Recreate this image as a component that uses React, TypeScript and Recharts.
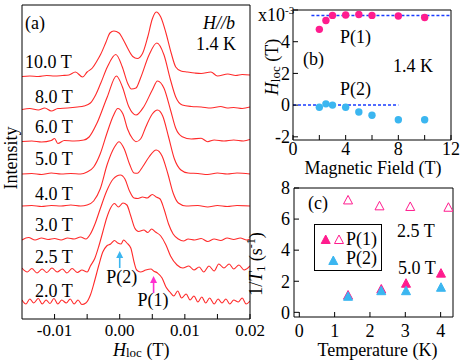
import React from 'react';
import { LineChart, Line, XAxis, YAxis, ScatterChart, Scatter, ReferenceLine } from 'recharts';

const SERIF = '"Liberation Serif", "Times New Roman", serif';
const RED = '#ff2a2a';
const PINK = '#ff1c8e';
const SKY = '#3bb6f0';
const GUIDE = '#1a3cff';

// (a) NMR spectra, [H_loc (T), intensity (arb. units, stacked)]
const spec10 = [
  [-0.015, 242.5], [-0.0138, 243], [-0.0125, 242.5], [-0.0112, 243.5], [-0.01, 243], [-0.0088, 243.5],
  [-0.0078, 244], [-0.0068, 247], [-0.0057, 242], [-0.005, 247], [-0.0042, 251], [-0.0035, 258],
  [-0.0029, 265], [-0.0021, 277], [-0.0015, 286], [-0.0009, 288], [-0.0001, 286], [0.0004, 281],
  [0.0012, 271], [0.002, 262.5], [0.0027, 260.5], [0.0035, 265.5], [0.0043, 282], [0.005, 300],
  [0.0056, 307], [0.0063, 302], [0.0071, 286], [0.0079, 266], [0.0086, 252], [0.0094, 248],
  [0.0104, 247], [0.0115, 246], [0.0125, 245.5], [0.014, 247], [0.015, 243], [0.0166, 245],
  [0.0178, 243.5], [0.0188, 244.5], [0.02, 244],
];
const spec8 = [
  [-0.015, 209.5], [-0.0138, 210.5], [-0.0125, 209], [-0.0115, 211], [-0.0105, 208], [-0.0095, 210.5],
  [-0.008, 211], [-0.0065, 212], [-0.0055, 213], [-0.0045, 216], [-0.0037, 224], [-0.0029, 236],
  [-0.0019, 252], [-0.0006, 264.5], [0.0004, 252], [0.0012, 236], [0.0018, 230], [0.0025, 231],
  [0.0032, 241], [0.0045, 264], [0.0057, 276], [0.0068, 264], [0.0078, 239], [0.0086, 222],
  [0.0096, 214], [0.011, 212.5], [0.0125, 212], [0.014, 211], [0.0155, 212.5], [0.0165, 211],
  [0.0175, 211.5], [0.0188, 210.5], [0.02, 212],
];
const spec6 = [
  [-0.015, 177.5], [-0.0135, 178], [-0.012, 177], [-0.0105, 178.5], [-0.01, 180.5], [-0.0095, 175.5],
  [-0.0085, 178.5], [-0.007, 178], [-0.0055, 179], [-0.0047, 182], [-0.0035, 195.7], [-0.0019, 222.3],
  [-0.0005, 243], [0.0004, 232.3], [0.0014, 212.3], [0.0025, 204], [0.0037, 212.3], [0.005, 229],
  [0.0058, 238], [0.0068, 230.7], [0.0078, 209], [0.0086, 190.7], [0.0096, 182.3], [0.011, 180],
  [0.0125, 180.7], [0.0135, 177.3], [0.0145, 179], [0.016, 178], [0.0175, 179], [0.019, 178], [0.02, 179.5],
];
const spec5 = [
  [-0.015, 145], [-0.0135, 145.5], [-0.012, 144.5], [-0.0105, 146], [-0.009, 145], [-0.0075, 145.5],
  [-0.006, 145], [-0.005, 147], [-0.004, 152], [-0.003, 165], [-0.002, 185], [-0.001, 203],
  [-0.0003, 210.5], [0.0005, 205], [0.0012, 190], [0.002, 180], [0.0025, 177.3], [0.0032, 180],
  [0.004, 192], [0.005, 205], [0.0058, 209], [0.0066, 203], [0.0075, 182], [0.0084, 160],
  [0.0094, 149], [0.0105, 146], [0.012, 145.5], [0.0135, 144.5], [0.015, 146], [0.0165, 145],
  [0.018, 146], [0.02, 145],
];
const spec4 = [
  [-0.015, 113], [-0.0135, 113.5], [-0.012, 112.5], [-0.0105, 113.5], [-0.009, 113], [-0.0075, 114],
  [-0.006, 113], [-0.005, 114], [-0.004, 118], [-0.003, 130], [-0.0019, 155], [-0.0008, 172],
  [-0.0001, 177.3], [0.0007, 170], [0.0015, 155], [0.0022, 146], [0.0027, 145.7], [0.0035, 152],
  [0.0045, 162], [0.0056, 169], [0.0065, 163], [0.0074, 145], [0.0082, 126], [0.009, 116],
  [0.0102, 113], [0.012, 113.5], [0.0135, 112], [0.015, 113.5], [0.0165, 112.5], [0.018, 113.5], [0.02, 113],
];
const spec3 = [
  [-0.015, 79], [-0.014, 81.5], [-0.013, 79], [-0.012, 81], [-0.011, 79.5], [-0.01, 80.5],
  [-0.009, 79], [-0.008, 81], [-0.007, 80], [-0.006, 82], [-0.0052, 80], [-0.0045, 85],
  [-0.0038, 95], [-0.003, 110], [-0.002, 128], [-0.001, 140], [0.0001, 144], [0.0008, 140],
  [0.0015, 128], [0.0022, 121], [0.0028, 120.5], [0.0035, 122], [0.0042, 121], [0.005, 124.5],
  [0.0056, 122], [0.0062, 120], [0.0068, 110], [0.0075, 95], [0.0082, 85], [0.009, 80],
  [0.0098, 78], [0.0105, 80], [0.0115, 79], [0.0125, 80.5], [0.0135, 77.5], [0.0145, 80],
  [0.0155, 78.5], [0.0165, 81], [0.0175, 79.5], [0.0185, 81], [0.0195, 79], [0.02, 80],
];
const spec25 = [
  [-0.015, 51], [-0.0142, 47], [-0.0135, 50.5], [-0.0127, 46], [-0.0119, 50], [-0.0112, 46.5],
  [-0.0104, 51], [-0.0096, 47], [-0.0088, 50], [-0.0081, 46], [-0.0073, 50.5], [-0.0065, 46.5],
  [-0.0058, 49], [-0.005, 47], [-0.0045, 53], [-0.0038, 61], [-0.0032, 73], [-0.0026, 87],
  [-0.002, 101], [-0.0014, 111], [-0.0008, 115.5], [-0.0002, 112], [0.0005, 116], [0.0011, 114],
  [0.0017, 103], [0.0023, 91], [0.0029, 87.5], [0.0037, 89], [0.0043, 86.5], [0.0049, 90],
  [0.0055, 87], [0.0063, 83], [0.0071, 74], [0.0078, 63], [0.0088, 54], [0.0097, 51],
  [0.0106, 53], [0.0114, 49], [0.0122, 52], [0.0129, 47], [0.0137, 53], [0.0145, 48],
  [0.0152, 55], [0.016, 51], [0.0168, 55], [0.0175, 50], [0.0183, 54], [0.0191, 49], [0.02, 53],
];
const spec20 = [
  [-0.015, 19], [-0.0144, 15], [-0.0138, 20], [-0.0132, 16], [-0.0125, 20.5], [-0.0119, 15],
  [-0.0113, 19], [-0.0107, 15.5], [-0.0101, 20.5], [-0.0095, 15], [-0.0089, 19], [-0.0082, 16],
  [-0.0076, 20], [-0.007, 15], [-0.0064, 19], [-0.0058, 14.5], [-0.0052, 16], [-0.0045, 24],
  [-0.0039, 37], [-0.0032, 54], [-0.0026, 67], [-0.002, 73], [-0.0014, 75], [-0.0008, 78.5],
  [-0.0003, 76], [0.0002, 75], [0.0006, 79], [0.0011, 76], [0.0017, 71], [0.0022, 57],
  [0.0026, 49], [0.0032, 47], [0.004, 49], [0.0048, 50], [0.0052, 48], [0.0058, 46],
  [0.0065, 41], [0.0071, 32], [0.0077, 27], [0.0083, 23], [0.0089, 28], [0.0095, 21],
  [0.0102, 25], [0.0108, 19], [0.0114, 23], [0.012, 17], [0.0126, 22], [0.0132, 16],
  [0.0138, 21], [0.0145, 15], [0.0151, 20], [0.0157, 16], [0.0163, 20], [0.0169, 15],
  [0.0175, 19], [0.0182, 17], [0.0188, 21], [0.0194, 15], [0.02, 18],
];
const spectra = [spec10, spec8, spec6, spec5, spec4, spec3, spec25, spec20];
const fieldLabels = ['10.0 T', '8.0 T', '6.0 T', '5.0 T', '4.0 T', '3.0 T', '2.5 T', '2.0 T'];
const hlocTicks = [-0.01, -0.005, 0, 0.005, 0.01, 0.015, 0.02];

// (b) H_loc (x10^-3 T) vs magnetic field (T)
const fieldB = [2, 2.5, 3, 4, 5, 6, 8, 10];
const hlocP1 = [4.78, 5.34, 5.66, 5.68, 5.72, 5.66, 5.62, 5.53];
const hlocP2 = [-0.13, 0.08, 0, -0.13, -0.43, -0.64, -0.92, -0.92];
const fieldTicks = [0, 2, 4, 6, 8, 10, 12];
const hlocBTicks = [-2, 0, 2, 4, 6];

// (c) 1/T1 (s^-1) vs temperature (K)
const tempP1low = [1.38, 2.27, 3.14, 4.22];
const rateP1low = [7.2, 6.82, 6.78, 6.73];
const tempHigh = [1.38, 2.32, 3.02, 4.01];
const rateP1high = [1.08, 1.47, 1.84, 2.49];
const rateP2high = [1.0, 1.36, 1.36, 1.58];
const tempTicks = [0, 1, 2, 3, 4];
const rateTicks = [0, 2, 4, 6, 8];

const toPts = (arr: number[][]) => arr.map(([h, i]) => ({ h, i }));
const zip = (xs: number[], ys: number[]) => xs.map((x, k) => ({ x, y: ys[k] }));
const blank = () => '';

// serif tick text, formatted by fmt; side 'bottom' or 'left'
const serifTick = (fmt: (v: number) => string, size: number, side: 'bottom' | 'left') => (p: any) => (
  <text
    x={p.x} y={p.y} dy={side === 'bottom' ? '0.71em' : '0.35em'}
    textAnchor={side === 'bottom' ? 'middle' : 'end'}
    fontFamily={SERIF} fontSize={size} fill="#000"
  >
    {fmt(p.payload.value)}
  </text>
);

const fmtHloc = (v: number) => (Math.abs(v * 100 - Math.round(v * 100)) < 1e-6 ? v.toFixed(2) : '');
const fmtField = (v: number) => (v % 4 === 0 ? String(v) : '');
const fmtHlocB = (v: number) => (v === 6 ? '' : String(v));
const fmtPlain = (v: number) => String(v);

const arrow = (color: string) => (p: any) => {
  const { x1, y1, x2, y2 } = p;
  return (
    <g>
      <line x1={x1} y1={y1} x2={x2} y2={y2 + 5} stroke={color} strokeWidth={1.6} />
      <polygon points={`${x2},${y2} ${x2 - 3.5},${y2 + 7} ${x2 + 3.5},${y2 + 7}`} fill={color} />
    </g>
  );
};

const dot = (color: string) => (p: any) => <circle cx={p.cx} cy={p.cy} r={3.7} fill={color} />;
const tri = (color: string, open = false) => (p: any) => (
  <polygon
    points={`${p.cx},${p.cy - 5} ${p.cx - 4.5},${p.cy + 3.5} ${p.cx + 4.5},${p.cy + 3.5}`}
    fill={open ? '#fff' : color}
    stroke={color}
    strokeWidth={1}
  />
);

const PanelA = () => (
  <LineChart width={270} height={362} margin={{ top: 4, right: 19, left: 21, bottom: 0 }}>
    <XAxis
      type="number" dataKey="h" domain={[-0.015, 0.02]} allowDataOverflow ticks={hlocTicks} interval={0}
      tick={serifTick(fmtHloc, 17, 'bottom')} tickSize={-5} tickMargin={10} height={43} stroke="#000"
    />
    <XAxis xAxisId="top" orientation="top" type="number" domain={[-0.015, 0.02]} ticks={hlocTicks} interval={0}
      tickFormatter={blank} tickSize={-5} height={1} stroke="#000" />
    <YAxis type="number" domain={[0, 314]} width={1} tick={false} tickLine={false} stroke="#000" />
    <YAxis yAxisId="r" orientation="right" type="number" domain={[0, 314]} width={1} tick={false} tickLine={false} stroke="#000" />
    {spectra.map((s, k) => (
      <Line key={k} data={toPts(s)} dataKey="i" type="monotone" stroke={RED} strokeWidth={1.1}
        dot={false} activeDot={false} isAnimationActive={false} />
    ))}
    <ReferenceLine segment={[{ x: 0, y: 51 }, { x: 0, y: 68 }]} shape={arrow(SKY)} />
    <ReferenceLine segment={[{ x: 0.0052, y: 26 }, { x: 0.0052, y: 43 }]} shape={arrow('#ff2fd0')} />
  </LineChart>
);

const PanelB = () => (
  <ScatterChart width={220} height={180} margin={{ top: 9, right: 8, left: 52, bottom: 0 }}>
    <XAxis
      type="number" dataKey="x" domain={[0, 12]} ticks={fieldTicks} interval={0}
      tick={serifTick(fmtField, 18, 'bottom')} tickSize={-5} tickMargin={7} height={40} stroke="#000"
    />
    <XAxis xAxisId="top" orientation="top" type="number" domain={[0, 12]} ticks={fieldTicks} interval={0}
      tickFormatter={blank} tickSize={-5} height={1} stroke="#000" />
    <YAxis
      type="number" dataKey="y" domain={[-2.2, 6]} allowDataOverflow ticks={hlocBTicks} interval={0}
      tick={serifTick(fmtHlocB, 18, 'left')} tickSize={-5} tickMargin={8} width={1} stroke="#000"
    />
    <YAxis yAxisId="r" orientation="right" type="number" domain={[-2.2, 6]} ticks={hlocBTicks} interval={0}
      tickFormatter={blank} tickSize={-5} width={1} stroke="#000" />
    <ReferenceLine segment={[{ x: 1.4, y: 5.66 }, { x: 12, y: 5.66 }]} stroke={GUIDE} strokeWidth={1.5} strokeDasharray="3 2" />
    <ReferenceLine segment={[{ x: 0, y: 0 }, { x: 8, y: 0 }]} stroke={GUIDE} strokeWidth={1.5} strokeDasharray="3 2" />
    <Scatter data={zip(fieldB, hlocP1)} shape={dot(PINK)} isAnimationActive={false} />
    <Scatter data={zip(fieldB, hlocP2)} shape={dot(SKY)} isAnimationActive={false} />
  </ScatterChart>
);

const PanelC = () => (
  <ScatterChart width={220} height={192} margin={{ top: 17, right: 6, left: 53, bottom: 0 }}>
    <XAxis
      type="number" dataKey="x" domain={[-0.15, 4.35]} allowDataOverflow ticks={tempTicks} interval={0}
      tick={serifTick(fmtPlain, 18, 'bottom')} tickSize={-5} tickMargin={12} height={45} stroke="#000"
    />
    <XAxis xAxisId="top" orientation="top" type="number" domain={[-0.15, 4.35]} ticks={tempTicks} interval={0}
      tickFormatter={blank} tickSize={-5} height={1} stroke="#000" />
    <YAxis
      type="number" dataKey="y" domain={[-0.3, 8]} allowDataOverflow ticks={rateTicks} interval={0}
      tick={serifTick(fmtPlain, 18, 'left')} tickSize={-5} tickMargin={9} width={1} stroke="#000"
    />
    <YAxis yAxisId="r" orientation="right" type="number" domain={[-0.3, 8]} ticks={rateTicks} interval={0}
      tickFormatter={blank} tickSize={-5} width={1} stroke="#000" />
    <Scatter data={zip(tempP1low, rateP1low)} shape={tri(PINK, true)} isAnimationActive={false} />
    <Scatter data={zip(tempHigh, rateP1high)} shape={tri(PINK)} isAnimationActive={false} />
    <Scatter data={zip(tempHigh, rateP2high)} shape={tri(SKY)} isAnimationActive={false} />
  </ScatterChart>
);

const labelY = [67.5, 102.5, 132.5, 165, 199.5, 231, 262.5, 296.5];

export default function App() {
  return (
    <div style={{ position: 'absolute', left: 0, top: 0, width: 460, height: 362, background: '#fff', overflow: 'hidden', fontFamily: SERIF }}>
      <div style={{ position: 'absolute', left: 0, top: 0 }}><PanelA /></div>
      <div style={{ position: 'absolute', left: 240, top: 0 }}><PanelB /></div>
      <div style={{ position: 'absolute', left: 240, top: 170 }}><PanelC /></div>
      <svg width={460} height={362} style={{ position: 'absolute', left: 0, top: 0, pointerEvents: 'none' }}
        fontFamily={SERIF} fontSize={18} fill="#000">
        {/* panel (a) */}
        <text x={25} y={28.5}>(a)</text>
        <text x={235} y={28.5} textAnchor="end" fontStyle="italic">H//b</text>
        <text x={236} y={50} textAnchor="end">1.4 K</text>
        {fieldLabels.map((t, k) => (
          <text key={t} x={k === 0 ? 25 : 35} y={labelY[k]}>{t}</text>
        ))}
        <text x={121.7} y={282.5} textAnchor="middle">P(2)</text>
        <text x={153} y={306} textAnchor="middle">P(1)</text>
        <text x={113} y={356}>
          <tspan fontStyle="italic">H</tspan><tspan fontSize={13} dy={1}>loc</tspan><tspan dy={-1}> (T)</tspan>
        </text>
        <text transform="translate(17,158) rotate(-90)" textAnchor="middle">Intensity</text>
        {/* panel (b) */}
        <text x={258} y={20.5}>x10<tspan fontSize={11} dy={-7}>-3</tspan></text>
        <text x={303} y={65}>(b)</text>
        <text x={433} y={71.5} textAnchor="end">1.4 K</text>
        <text x={340} y={43}>P(1)</text>
        <text x={340} y={95}>P(2)</text>
        <text transform="translate(278,67) rotate(-90)" textAnchor="middle">
          <tspan fontStyle="italic">H</tspan><tspan fontSize={13} dy={2}>loc</tspan><tspan dy={-2}> (T)</tspan>
        </text>
        <text x={373} y={174} textAnchor="middle">Magnetic Field (T)</text>
        {/* panel (c) */}
        <text x={308} y={208.5}>(c)</text>
        <text x={397} y={236.5}>2.5 T</text>
        <text x={398} y={274}>5.0 T</text>
        <rect x={314.5} y={224.5} width={67} height={46} fill="none" stroke="#000" strokeWidth={1} />
        <polygon points="325.7,235 321.2,243.5 330.2,243.5" fill={PINK} stroke={PINK} />
        <polygon points="339,235 334.5,243.5 343.5,243.5" fill="#fff" stroke={PINK} />
        <text x={346} y={244.5}>P(1)</text>
        <polygon points="333.3,256 328.8,264.5 337.8,264.5" fill={SKY} stroke={SKY} />
        <text x={346} y={264}>P(2)</text>
        <text transform="translate(262,264) rotate(-90)" textAnchor="middle">
          1/<tspan fontStyle="italic">T</tspan><tspan fontSize={12} dy={3}>1</tspan>
          <tspan dy={-3}> (s</tspan><tspan fontSize={12} dy={-7}>-1</tspan><tspan dy={7}>)</tspan>
        </text>
        <text x={377.5} y={356} textAnchor="middle">Temperature (K)</text>
      </svg>
    </div>
  );
}
